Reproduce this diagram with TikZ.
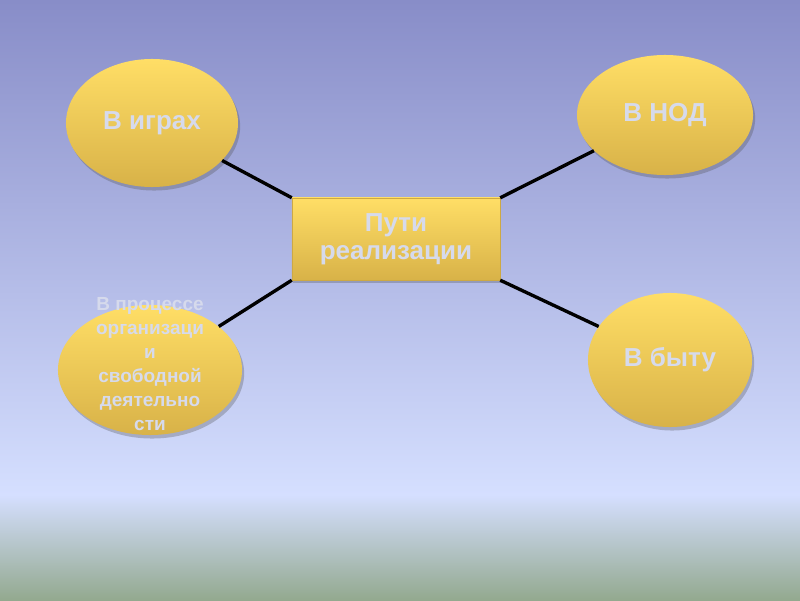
\documentclass[tikz,border=0pt]{standalone}
\usepackage{fontspec}
\setmainfont{Liberation Sans}
\usepackage{tikz}
\usetikzlibrary{shapes.geometric,shadows}
\definecolor{bgtop}{RGB}{136, 141, 200}
\definecolor{bgmid}{RGB}{213, 223, 255}
\definecolor{bggreen}{RGB}{147, 169, 143}
\definecolor{goldtop}{RGB}{255, 222, 102}
\definecolor{goldbottom}{RGB}{216, 178, 72}
\definecolor{paletext}{RGB}{214, 218, 236}
\tikzset{
  wayellipse/.style={
    ellipse,
    top color=goldtop,
    bottom color=goldbottom,
    draw=none,
    inner sep=0pt,
    drop shadow={shadow xshift=1.5pt, shadow yshift=-2.5pt, opacity=0.3, fill=black!70},
    text=paletext,
    font=\fontsize{18.5}{21}\selectfont\bfseries
  },
  centerbox/.style={
    rectangle,
    top color=goldtop,
    bottom color=goldbottom,
    draw=goldbottom!95!black,
    line width=0.3pt,
    align=center,
    drop shadow={shadow xshift=1pt, shadow yshift=-2pt, opacity=0.3, fill=black!70},
    text=paletext,
    font=\fontsize{18.5}{20}\selectfont\bfseries
  },
  waytext/.style={
    align=center,
    text=paletext,
    font=\fontsize{13.5}{17}\selectfont\bfseries
  },
  linkline/.style={
    line width=2.4pt,
    draw=black
  }
}
\begin{document}
\begin{tikzpicture}[x=0.025cm, y=0.025cm]
  \useasboundingbox (0,0) rectangle (800,600);
  % background
  \shade[top color=bgtop, bottom color=bgmid] (0,105) rectangle (800,600);
  \shade[top color=bgmid, bottom color=bggreen] (0,0) rectangle (800,105);

  \node[centerbox, minimum width=5.2cm, minimum height=2.05cm] (main) at (396,361) {Пути\\реализации};
  \node[wayellipse, minimum width=4.3cm, minimum height=3.2cm] (games) at (152,477) {В играх};
  \node[wayellipse, minimum width=4.4cm, minimum height=3.0cm] (nod) at (665,485) {В НОД};
  \node[wayellipse, minimum width=4.6cm, minimum height=3.25cm] (process) at (150,230) {};
  \node[waytext] (processtext) at (150,236) {В процессе\\организаци\\и\\свободной\\деятельно\\сти};
  \node[wayellipse, minimum width=4.1cm, minimum height=3.35cm] (life) at (670,240) {В быту};

  \draw[linkline] (main.north west) -- (games);
  \draw[linkline] (main.north east) -- (nod);
  \draw[linkline] (main.south west) -- (process);
  \draw[linkline] (main.south east) -- (life);
\end{tikzpicture}
\end{document}
